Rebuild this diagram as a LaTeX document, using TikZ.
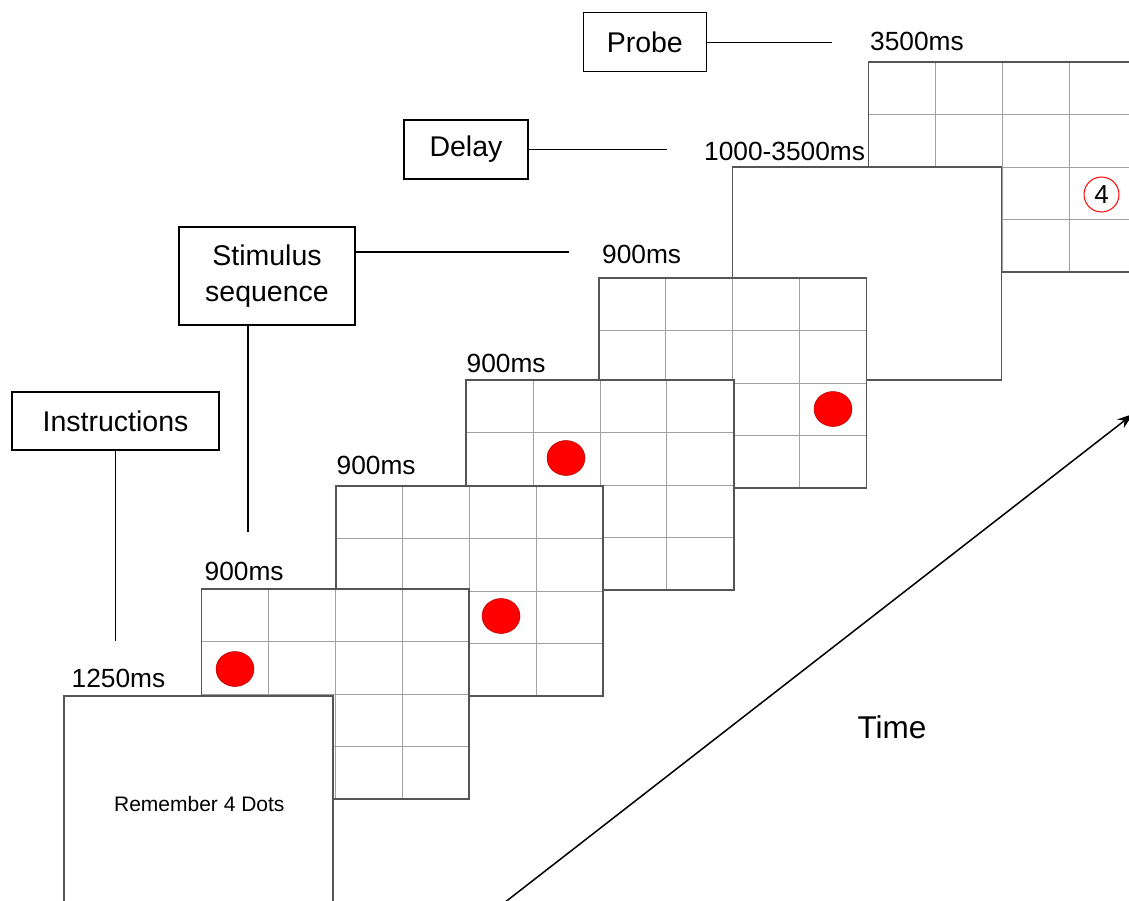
\documentclass[tikz,border=0pt]{standalone}
\usepackage{fontspec}
\setmainfont{Liberation Sans}
\usetikzlibrary{shapes.geometric,arrows.meta,calc}
\definecolor{scrborder}{HTML}{555555}
\definecolor{gridc}{HTML}{A0A0A0}
\definecolor{dotred}{HTML}{FF0000}
\definecolor{dotedge}{HTML}{B00000}

\newcommand\gridscreen[3]{%
  \node[scr] (#1) at (#2,#3) {};
  \foreach \i in {1,2,3}{
    \draw[gridline] ($(#1.north west)+(\i*66.875,0)$) -- ($(#1.south west)+(\i*66.875,0)$);
    \draw[gridline] ($(#1.north west)+(0,\i*52.5)$) -- ($(#1.north east)+(0,\i*52.5)$);
  }
  \draw[scrline] (#1.north west) rectangle (#1.south east);
}

\begin{document}
\begin{tikzpicture}[x=1pt,y=-1pt,
  scr/.style={fill=white, minimum width=267.5pt, minimum height=210pt, anchor=north west, inner sep=0pt, outer sep=0pt},
  plainscr/.style={scr, minimum width=269pt, minimum height=213pt},
  gridline/.style={draw=gridc, line width=1pt},
  scrline/.style={draw=scrborder, line width=1.8pt},
  dot/.style={ellipse, fill=dotred, draw=dotedge, line width=0.5pt, minimum width=38pt, minimum height=35pt, inner sep=0pt},
  tlabel/.style={anchor=base west, inner sep=0pt, font=\fontsize{26.3}{30}\selectfont},
  labelbox/.style={draw=black, line width=1.3pt, fill=white, inner sep=0pt, align=center, font=\fontsize{28.5}{35.3}\selectfont},
  conn/.style={draw=black, line width=1.3pt}
]
\useasboundingbox (0,0) rectangle (1129,901);

% ---- screens, back to front ----
\gridscreen{s6}{868.5}{62.3}
\node[circle, draw=red, line width=1pt, minimum size=35pt, inner sep=0pt, font=\fontsize{26}{26}\selectfont] (four) at (1101.5,194.5) {4};

\node[plainscr] (s5) at (732.5,166.7) {};
\draw[scrline] (s5.north west) rectangle (s5.south east);

\gridscreen{s4}{599}{278.3}
\node[dot] (d4) at (833,409) {};

\gridscreen{s3}{466.3}{380}
\node[dot] (d3) at (566,458) {};

\gridscreen{s2}{335.7}{486}
\node[dot] (d2) at (501,616) {};

\gridscreen{s1}{201.5}{589.3}
\node[dot] (d1) at (235,669) {};

\node[plainscr] (s0) at (64,695.7) {};
\draw[scrline] (s0.north west) rectangle (s0.south east);
\node[anchor=base, inner sep=0pt, font=\fontsize{21}{24}\selectfont] (rem) at (199.3,811.7) {Remember 4 Dots};

% ---- timing labels ----
\node[tlabel] (t6) at (870,51) {3500ms};
\node[tlabel] (t5) at (704,161) {1000-3500ms};
\node[tlabel] (t4) at (602,264) {900ms};
\node[tlabel] (t3) at (466.5,372.3) {900ms};
\node[tlabel] (t2) at (336.5,474.3) {900ms};
\node[tlabel] (t1) at (204.5,580) {900ms};
\node[tlabel] (t0) at (71.5,687.7) {1250ms};

% ---- phase boxes ----
\node[labelbox, minimum width=123pt, minimum height=59pt] (probe) at (644.8,42.3) {Probe};
\node[labelbox, minimum width=124pt, minimum height=59pt] (delay) at (466,149.5) {Delay};
\node[labelbox, minimum width=176pt, minimum height=98pt] (stim) at (267,276) {Stimulus\\sequence};
\node[labelbox, minimum width=207pt, minimum height=58pt] (instr) at (115.5,421) {Instructions};

\coordinate (probeend) at (832,42.3);
\coordinate (delayend) at (667.3,149.5);
\coordinate (stimend) at (568.5,252);
\coordinate (stimdown) at (248,532);
\coordinate (instrdown) at (115.5,641);

\draw[conn] (probe.east) -- (probeend);
\draw[conn] (delay.east) -- (delayend);
\draw[conn] (stim.east |- stimend) -- (stimend);
\draw[conn] (stim.south -| stimdown) -- (stimdown);
\draw[conn] (instr.south) -- (instrdown);

% ---- time arrow ----
\coordinate (tstart) at (504,903);
\coordinate (tend) at (1133,414);
\draw[line width=1.5pt, -{Stealth[length=16pt, width=11pt]}] (tstart) -- (tend);
\node[anchor=base, inner sep=0pt, font=\fontsize{31.5}{36}\selectfont] (time) at (892,738) {Time};
\end{tikzpicture}
\end{document}
